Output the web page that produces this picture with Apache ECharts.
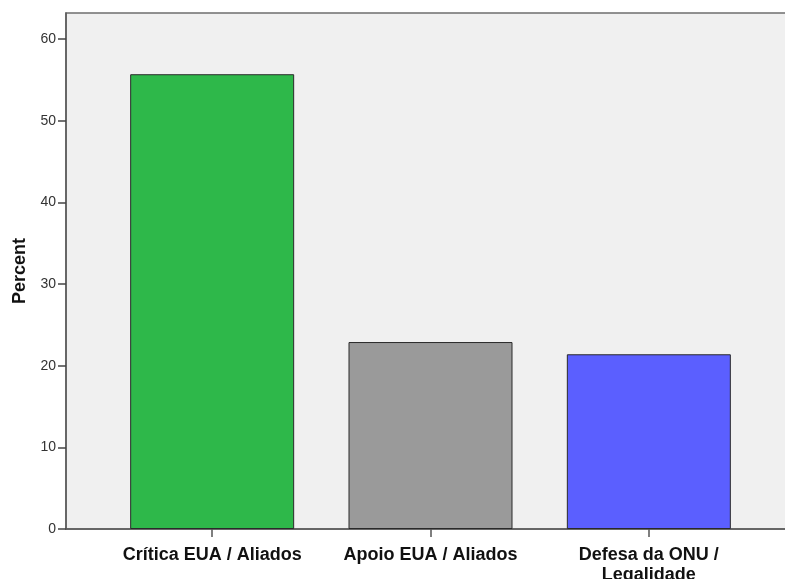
<!DOCTYPE html>
<html>
<head>
<meta charset="utf-8">
<script src="https://cdn.jsdelivr.net/npm/echarts@6/dist/echarts.min.js"></script>
<style>html,body{margin:0;padding:0;background:#fff;}#c{width:785px;height:579px;}</style>
</head>
<body>
<div id="c"></div>
<script>
const categories = ['Crítica EUA / Aliados', 'Apoio EUA / Aliados', 'Defesa da ONU / Legalidade'];
const percentValues = [55.7, 22.9, 21.4];
const barColors = ['#2eb84a', '#9a9a9a', '#5b5fff'];
const yTicks = [0, 10, 20, 30, 40, 50, 60];

const chart = echarts.init(document.getElementById('c'), null, {renderer: 'canvas'});
const font = 'Liberation Sans, Arial, sans-serif';
chart.setOption({
  animation: false,
  grid: [
    {left: 66, right: -12, top: 13, bottom: 50, outerBoundsMode: 'none', containLabel: false, show: true, backgroundColor: '#f0f0f0', borderColor: '#6e6e6e', borderWidth: 1.5},
    {left: 103, width: 655, top: 13, bottom: 50, outerBoundsMode: 'none', containLabel: false}
  ],
  xAxis: [
    {gridIndex: 0, type: 'category', data: ['a'], axisLine: {show: true, lineStyle: {color: '#5a5a5a', width: 1.5}}, axisTick: {show: false}, axisLabel: {show: false}, splitLine: {show: false}},
    {gridIndex: 1, type: 'category', data: categories,
      axisLine: {show: false},
      axisTick: {show: true, alignWithLabel: true, length: 8, lineStyle: {color: '#555', width: 1.5}},
      axisLabel: {show: true, margin: 16, interval: 0, color: '#111', fontFamily: font, fontWeight: 'bold', fontSize: 18, lineHeight: 20,
        formatter: function (v) { return v === 'Defesa da ONU / Legalidade' ? 'Defesa da ONU /\nLegalidade' : v; }}
    }
  ],
  yAxis: [
    {gridIndex: 0, type: 'value', min: 0, max: 63.2, interval: 10,
      name: 'Percent', nameLocation: 'middle', nameGap: 37, nameRotate: 90,
      nameTextStyle: {fontFamily: font, fontWeight: 'bold', fontSize: 18, color: '#111'},
      axisLine: {show: true, lineStyle: {color: '#5a5a5a', width: 1.5}},
      axisTick: {show: true, length: 8, customValues: yTicks, lineStyle: {color: '#444', width: 1.5}},
      axisLabel: {color: '#333', fontFamily: font, fontSize: 14, margin: 10, customValues: yTicks},
      splitLine: {show: false}
    },
    {gridIndex: 1, type: 'value', min: 0, max: 63.2, interval: 10, show: false, splitLine: {show: false}}
  ],
  series: [{
    type: 'bar', xAxisIndex: 1, yAxisIndex: 1,
    barWidth: 164,
    data: percentValues.map((v, i) => ({value: v, itemStyle: {color: barColors[i]}})),
    itemStyle: {borderColor: '#2a2a2a', borderWidth: 1}
  }]
});
</script>
</body>
</html>
